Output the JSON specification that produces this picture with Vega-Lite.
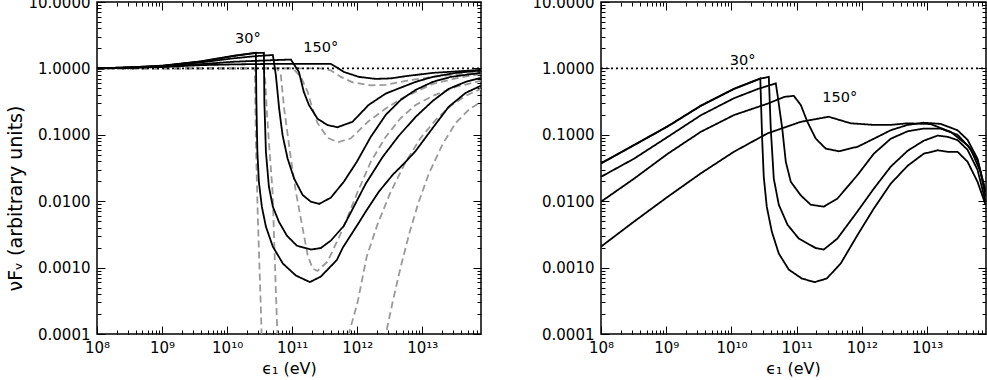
{
  "$schema": "https://vega.github.io/schema/vega-lite/v6.json",
  "autosize": {"type": "pad"},
  "padding": {"left": 5, "top": -6, "right": 0, "bottom": 0},
  "background": "white",
  "config": {
    "view": {"stroke": "black", "strokeWidth": 1.5},
    "font": "DejaVu Sans",
    "axis": {"domain": false, "grid": false, "tickColor": "black", "tickWidth": 1, "labelFont": "DejaVu Sans", "labelFontSize": 15, "labelColor": "black", "titleFont": "DejaVu Sans", "titleFontWeight": "normal", "titleColor": "black", "labelFlush": false, "labelOverlap": false}
  },
  "datasets": {
    "L": [
      {"c":"D1","s":"dashed","x":1e8,"y":1.0},{"c":"D1","s":"dashed","x":2.67e10,"y":1.0},{"c":"D1","s":"dashed","x":2.77e10,"y":0.0785},{"c":"D1","s":"dashed","x":2.94e10,"y":0.0078},{"c":"D1","s":"dashed","x":3.11e10,"y":0.00138},{"c":"D1","s":"dashed","x":3.30e10,"y":0.00025},{"c":"D1","s":"dashed","x":3.48e10,"y":3.9e-5},
      {"c":"D1b","s":"dashed","x":2.39e12,"y":5.5e-5},{"c":"D1b","s":"dashed","x":2.75e12,"y":1.0e-4},{"c":"D1b","s":"dashed","x":3.52e12,"y":0.000308},{"c":"D1b","s":"dashed","x":4.68e12,"y":0.00104},{"c":"D1b","s":"dashed","x":6.43e12,"y":0.00348},{"c":"D1b","s":"dashed","x":8.84e12,"y":0.00982},{"c":"D1b","s":"dashed","x":1.26e13,"y":0.0259},{"c":"D1b","s":"dashed","x":2.07e13,"y":0.0733},{"c":"D1b","s":"dashed","x":3.27e13,"y":0.151},{"c":"D1b","s":"dashed","x":5.18e13,"y":0.238},{"c":"D1b","s":"dashed","x":7.9e13,"y":0.313},
      {"c":"D2","s":"dashed","x":1e8,"y":1.0},{"c":"D2","s":"dashed","x":3.68e10,"y":1.0},{"c":"D2","s":"dashed","x":3.87e10,"y":0.627},{"c":"D2","s":"dashed","x":4.09e10,"y":0.222},{"c":"D2","s":"dashed","x":4.39e10,"y":0.0785},{"c":"D2","s":"dashed","x":5.0e10,"y":0.0139},{"c":"D2","s":"dashed","x":5.3e10,"y":0.00246},{"c":"D2","s":"dashed","x":5.62e10,"y":0.000436},{"c":"D2","s":"dashed","x":6.03e10,"y":6.5e-5},
      {"c":"D2b","s":"dashed","x":6.68e11,"y":6.5e-5},{"c":"D2b","s":"dashed","x":7.43e11,"y":1.0e-4},{"c":"D2b","s":"dashed","x":1.02e12,"y":0.000308},{"c":"D2b","s":"dashed","x":1.40e12,"y":0.00146},{"c":"D2b","s":"dashed","x":2.07e12,"y":0.00459},{"c":"D2b","s":"dashed","x":3.28e12,"y":0.0139},{"c":"D2b","s":"dashed","x":5.58e12,"y":0.0393},{"c":"D2b","s":"dashed","x":9.48e12,"y":0.0901},{"c":"D2b","s":"dashed","x":1.61e13,"y":0.168},{"c":"D2b","s":"dashed","x":2.74e13,"y":0.273},{"c":"D2b","s":"dashed","x":4.66e13,"y":0.386},{"c":"D2b","s":"dashed","x":7.9e13,"y":0.492},
      {"c":"D3","s":"dashed","x":1e8,"y":1.0},{"c":"D3","s":"dashed","x":5.82e10,"y":1.0},{"c":"D3","s":"dashed","x":6.7e10,"y":0.79},{"c":"D3","s":"dashed","x":7.53e10,"y":0.248},{"c":"D3","s":"dashed","x":9.55e10,"y":0.0441},{"c":"D3","s":"dashed","x":1.14e11,"y":0.0139},{"c":"D3","s":"dashed","x":1.45e11,"y":0.0039},{"c":"D3","s":"dashed","x":1.73e11,"y":0.00155},{"c":"D3","s":"dashed","x":2.06e11,"y":0.00097},{"c":"D3","s":"dashed","x":2.45e11,"y":0.00089},{"c":"D3","s":"dashed","x":3.5e11,"y":0.00123},{"c":"D3","s":"dashed","x":5.6e11,"y":0.00327},{"c":"D3","s":"dashed","x":1.02e12,"y":0.0139},{"c":"D3","s":"dashed","x":1.62e12,"y":0.0393},{"c":"D3","s":"dashed","x":2.75e12,"y":0.0933},{"c":"D3","s":"dashed","x":4.68e12,"y":0.179},{"c":"D3","s":"dashed","x":7.94e12,"y":0.282},{"c":"D3","s":"dashed","x":1.45e13,"y":0.386},{"c":"D3","s":"dashed","x":3.27e13,"y":0.527},{"c":"D3","s":"dashed","x":7.9e13,"y":0.649},
      {"c":"D4","s":"dashed","x":1e8,"y":1.0},{"c":"D4","s":"dashed","x":1.03e11,"y":1.0},{"c":"D4","s":"dashed","x":1.36e11,"y":0.745},{"c":"D4","s":"dashed","x":1.73e11,"y":0.443},{"c":"D4","s":"dashed","x":2.01e11,"y":0.264},{"c":"D4","s":"dashed","x":2.45e11,"y":0.151},{"c":"D4","s":"dashed","x":3.5e11,"y":0.0901},{"c":"D4","s":"dashed","x":5.04e11,"y":0.0771},{"c":"D4","s":"dashed","x":7.98e11,"y":0.0885},{"c":"D4","s":"dashed","x":1.46e12,"y":0.157},{"c":"D4","s":"dashed","x":2.75e12,"y":0.249},{"c":"D4","s":"dashed","x":4.68e12,"y":0.348},{"c":"D4","s":"dashed","x":1.45e13,"y":0.585},{"c":"D4","s":"dashed","x":3.27e13,"y":0.707},{"c":"D4","s":"dashed","x":7.9e13,"y":0.826},
      {"c":"D5","s":"dashed","x":1e8,"y":1.0},{"c":"D5","s":"dashed","x":2.76e11,"y":1.0},{"c":"D5","s":"dashed","x":3.93e11,"y":0.933},{"c":"D5","s":"dashed","x":5.6e11,"y":0.745},{"c":"D5","s":"dashed","x":8.55e11,"y":0.615},{"c":"D5","s":"dashed","x":1.62e12,"y":0.555},{"c":"D5","s":"dashed","x":2.75e12,"y":0.565},{"c":"D5","s":"dashed","x":5.58e12,"y":0.649},{"c":"D5","s":"dashed","x":1.45e13,"y":0.745},{"c":"D5","s":"dashed","x":3.27e13,"y":0.812},{"c":"D5","s":"dashed","x":7.9e13,"y":0.87},
      {"c":"R","s":"dotted","x":1e8,"y":1.0},{"c":"R","s":"dotted","x":8e13,"y":1.0},
      {"c":"S1","s":"solid","x":1e8,"y":1.0},{"c":"S1","s":"solid","x":3.3e8,"y":1.04},{"c":"S1","s":"solid","x":1e9,"y":1.10},{"c":"S1","s":"solid","x":4e9,"y":1.28},{"c":"S1","s":"solid","x":1.27e10,"y":1.55},{"c":"S1","s":"solid","x":2.77e10,"y":1.72},{"c":"S1","s":"solid","x":2.82e10,"y":0.313},{"c":"S1","s":"solid","x":2.92e10,"y":0.0555},{"c":"S1","s":"solid","x":3.08e10,"y":0.0196},{"c":"S1","s":"solid","x":3.42e10,"y":0.00827},{"c":"S1","s":"solid","x":3.95e10,"y":0.00414},{"c":"S1","s":"solid","x":5.05e10,"y":0.00207},{"c":"S1","s":"solid","x":7.2e10,"y":0.00115},{"c":"S1","s":"solid","x":1.14e11,"y":0.00076},{"c":"S1","s":"solid","x":1.87e11,"y":0.000605},{"c":"S1","s":"solid","x":2.76e11,"y":0.000733},{"c":"S1","s":"solid","x":4.86e11,"y":0.0013},{"c":"S1","s":"solid","x":6.01e11,"y":0.0020},{"c":"S1","s":"solid","x":1.06e12,"y":0.00475},{"c":"S1","s":"solid","x":1.35e12,"y":0.00695},{"c":"S1","s":"solid","x":2.15e12,"y":0.0139},{"c":"S1","s":"solid","x":3.52e12,"y":0.025},{"c":"S1","s":"solid","x":5.58e12,"y":0.0393},{"c":"S1","s":"solid","x":7.94e12,"y":0.0574},{"c":"S1","s":"solid","x":1.45e13,"y":0.127},{"c":"S1","s":"solid","x":2.55e13,"y":0.264},{"c":"S1","s":"solid","x":4.66e13,"y":0.428},{"c":"S1","s":"solid","x":7.9e13,"y":0.546},
      {"c":"S2","s":"solid","x":1e8,"y":1.0},{"c":"S2","s":"solid","x":3.3e8,"y":1.04},{"c":"S2","s":"solid","x":1e9,"y":1.09},{"c":"S2","s":"solid","x":4e9,"y":1.27},{"c":"S2","s":"solid","x":1.27e10,"y":1.54},{"c":"S2","s":"solid","x":2.77e10,"y":1.71},{"c":"S2","s":"solid","x":3.68e10,"y":1.72},{"c":"S2","s":"solid","x":3.74e10,"y":0.313},{"c":"S2","s":"solid","x":3.95e10,"y":0.0555},{"c":"S2","s":"solid","x":4.39e10,"y":0.0165},{"c":"S2","s":"solid","x":5.05e10,"y":0.00827},{"c":"S2","s":"solid","x":6.25e10,"y":0.00492},{"c":"S2","s":"solid","x":8.29e10,"y":0.00303},{"c":"S2","s":"solid","x":1.18e11,"y":0.00214},{"c":"S2","s":"solid","x":1.94e11,"y":0.00187},{"c":"S2","s":"solid","x":2.76e11,"y":0.00197},{"c":"S2","s":"solid","x":3.93e11,"y":0.00255},{"c":"S2","s":"solid","x":6.22e11,"y":0.00424},{"c":"S2","s":"solid","x":8.55e11,"y":0.00771},{"c":"S2","s":"solid","x":1.35e12,"y":0.0183},{"c":"S2","s":"solid","x":2.47e12,"y":0.0466},{"c":"S2","s":"solid","x":4.36e12,"y":0.0967},{"c":"S2","s":"solid","x":7.94e12,"y":0.187},{"c":"S2","s":"solid","x":1.45e13,"y":0.324},{"c":"S2","s":"solid","x":2.55e13,"y":0.492},{"c":"S2","s":"solid","x":4.66e13,"y":0.627},{"c":"S2","s":"solid","x":7.9e13,"y":0.719},
      {"c":"S3","s":"solid","x":1e8,"y":1.0},{"c":"S3","s":"solid","x":3.3e8,"y":1.03},{"c":"S3","s":"solid","x":1e9,"y":1.08},{"c":"S3","s":"solid","x":4e9,"y":1.23},{"c":"S3","s":"solid","x":1.27e10,"y":1.42},{"c":"S3","s":"solid","x":2.77e10,"y":1.53},{"c":"S3","s":"solid","x":5.05e10,"y":1.59},{"c":"S3","s":"solid","x":5.62e10,"y":0.79},{"c":"S3","s":"solid","x":6.31e10,"y":0.248},{"c":"S3","s":"solid","x":7.12e10,"y":0.099},{"c":"S3","s":"solid","x":8.5e10,"y":0.0441},{"c":"S3","s":"solid","x":1.07e11,"y":0.022},{"c":"S3","s":"solid","x":1.45e11,"y":0.0124},{"c":"S3","s":"solid","x":1.94e11,"y":0.00982},{"c":"S3","s":"solid","x":2.6e11,"y":0.0091},{"c":"S3","s":"solid","x":3.93e11,"y":0.0113},{"c":"S3","s":"solid","x":6.22e11,"y":0.0196},{"c":"S3","s":"solid","x":9.87e11,"y":0.0393},{"c":"S3","s":"solid","x":1.62e12,"y":0.0933},{"c":"S3","s":"solid","x":2.75e12,"y":0.200},{"c":"S3","s":"solid","x":4.68e12,"y":0.336},{"c":"S3","s":"solid","x":7.94e12,"y":0.475},{"c":"S3","s":"solid","x":1.45e13,"y":0.627},{"c":"S3","s":"solid","x":2.74e13,"y":0.745},{"c":"S3","s":"solid","x":7.9e13,"y":0.856},
      {"c":"S4","s":"solid","x":1e8,"y":1.0},{"c":"S4","s":"solid","x":3.3e8,"y":1.02},{"c":"S4","s":"solid","x":1e9,"y":1.06},{"c":"S4","s":"solid","x":4e9,"y":1.16},{"c":"S4","s":"solid","x":1.27e10,"y":1.26},{"c":"S4","s":"solid","x":5.05e10,"y":1.33},{"c":"S4","s":"solid","x":9.55e10,"y":1.36},{"c":"S4","s":"solid","x":1.27e11,"y":0.885},{"c":"S4","s":"solid","x":1.51e11,"y":0.443},{"c":"S4","s":"solid","x":1.81e11,"y":0.282},{"c":"S4","s":"solid","x":2.45e11,"y":0.175},{"c":"S4","s":"solid","x":3.5e11,"y":0.140},{"c":"S4","s":"solid","x":4.98e11,"y":0.130},{"c":"S4","s":"solid","x":8.47e11,"y":0.157},{"c":"S4","s":"solid","x":1.5e12,"y":0.282},{"c":"S4","s":"solid","x":2.75e12,"y":0.418},{"c":"S4","s":"solid","x":4.36e12,"y":0.50},{"c":"S4","s":"solid","x":7.94e12,"y":0.627},{"c":"S4","s":"solid","x":1.45e13,"y":0.745},{"c":"S4","s":"solid","x":3.27e13,"y":0.856},{"c":"S4","s":"solid","x":7.9e13,"y":0.93},
      {"c":"S5","s":"solid","x":1e8,"y":1.0},{"c":"S5","s":"solid","x":1e9,"y":1.05},{"c":"S5","s":"solid","x":4e9,"y":1.12},{"c":"S5","s":"solid","x":1.27e10,"y":1.15},{"c":"S5","s":"solid","x":5.05e10,"y":1.17},{"c":"S5","s":"solid","x":1.36e11,"y":1.17},{"c":"S5","s":"solid","x":3.93e11,"y":1.17},{"c":"S5","s":"solid","x":4.98e11,"y":1.02},{"c":"S5","s":"solid","x":6.22e11,"y":0.885},{"c":"S5","s":"solid","x":1.06e12,"y":0.745},{"c":"S5","s":"solid","x":1.93e12,"y":0.695},{"c":"S5","s":"solid","x":3.28e12,"y":0.707},{"c":"S5","s":"solid","x":5.58e12,"y":0.764},{"c":"S5","s":"solid","x":1.45e13,"y":0.856},{"c":"S5","s":"solid","x":3.27e13,"y":0.90},{"c":"S5","s":"solid","x":7.9e13,"y":0.95}
    ],
    "R": [
      {"c":"R","s":"dotted","x":1e8,"y":1.0},{"c":"R","s":"dotted","x":8e13,"y":1.0},
      {"c":"S1","s":"solid","x":1e8,"y":0.037},{"c":"S1","s":"solid","x":3.2e8,"y":0.0697},{"c":"S1","s":"solid","x":1.06e9,"y":0.134},{"c":"S1","s":"solid","x":3.4e9,"y":0.273},{"c":"S1","s":"solid","x":1.09e10,"y":0.49},{"c":"S1","s":"solid","x":1.98e10,"y":0.616},{"c":"S1","s":"solid","x":2.77e10,"y":0.707},{"c":"S1","s":"solid","x":2.87e10,"y":0.222},{"c":"S1","s":"solid","x":2.97e10,"y":0.0785},{"c":"S1","s":"solid","x":3.13e10,"y":0.0233},{"c":"S1","s":"solid","x":3.48e10,"y":0.00827},{"c":"S1","s":"solid","x":4.16e10,"y":0.00348},{"c":"S1","s":"solid","x":5.32e10,"y":0.00163},{"c":"S1","s":"solid","x":7.57e10,"y":0.000933},{"c":"S1","s":"solid","x":1.2e11,"y":0.000684},{"c":"S1","s":"solid","x":1.89e11,"y":0.000605},{"c":"S1","s":"solid","x":2.89e11,"y":0.000684},{"c":"S1","s":"solid","x":4.73e11,"y":0.00115},{"c":"S1","s":"solid","x":8.63e11,"y":0.00313},{"c":"S1","s":"solid","x":1.52e12,"y":0.00771},{"c":"S1","s":"solid","x":2.76e12,"y":0.0183},{"c":"S1","s":"solid","x":5.03e12,"y":0.0342},{"c":"S1","s":"solid","x":8.84e12,"y":0.0518},{"c":"S1","s":"solid","x":1.45e13,"y":0.0585},{"c":"S1","s":"solid","x":2.06e13,"y":0.0555},{"c":"S1","s":"solid","x":2.93e13,"y":0.0555},{"c":"S1","s":"solid","x":4.17e13,"y":0.0393},{"c":"S1","s":"solid","x":5.93e13,"y":0.0196},{"c":"S1","s":"solid","x":7.87e13,"y":0.00886},
      {"c":"S2","s":"solid","x":1e8,"y":0.0372},{"c":"S2","s":"solid","x":3.2e8,"y":0.07},{"c":"S2","s":"solid","x":1.06e9,"y":0.135},{"c":"S2","s":"solid","x":3.4e9,"y":0.275},{"c":"S2","s":"solid","x":1.09e10,"y":0.492},{"c":"S2","s":"solid","x":1.98e10,"y":0.62},{"c":"S2","s":"solid","x":2.77e10,"y":0.70},{"c":"S2","s":"solid","x":3.74e10,"y":0.745},{"c":"S2","s":"solid","x":4.01e10,"y":0.123},{"c":"S2","s":"solid","x":4.46e10,"y":0.0218},{"c":"S2","s":"solid","x":5.32e10,"y":0.00886},{"c":"S2","s":"solid","x":7.23e10,"y":0.00443},{"c":"S2","s":"solid","x":1.08e11,"y":0.00273},{"c":"S2","s":"solid","x":1.96e11,"y":0.00197},{"c":"S2","s":"solid","x":2.6e11,"y":0.00187},{"c":"S2","s":"solid","x":4.2e11,"y":0.00273},{"c":"S2","s":"solid","x":8.5e11,"y":0.00695},{"c":"S2","s":"solid","x":1.52e12,"y":0.0154},{"c":"S2","s":"solid","x":2.76e12,"y":0.033},{"c":"S2","s":"solid","x":5.03e12,"y":0.0575},{"c":"S2","s":"solid","x":8.84e12,"y":0.0813},{"c":"S2","s":"solid","x":1.45e13,"y":0.0973},{"c":"S2","s":"solid","x":2.06e13,"y":0.0933},{"c":"S2","s":"solid","x":2.93e13,"y":0.0833},{"c":"S2","s":"solid","x":4.17e13,"y":0.0595},{"c":"S2","s":"solid","x":5.93e13,"y":0.0297},{"c":"S2","s":"solid","x":7.87e13,"y":0.00982},
      {"c":"S3","s":"solid","x":1e8,"y":0.0233},{"c":"S3","s":"solid","x":3.2e8,"y":0.0436},{"c":"S3","s":"solid","x":1.06e9,"y":0.0933},{"c":"S3","s":"solid","x":3.4e9,"y":0.197},{"c":"S3","s":"solid","x":1.09e10,"y":0.355},{"c":"S3","s":"solid","x":2.54e10,"y":0.49},{"c":"S3","s":"solid","x":4.79e10,"y":0.595},{"c":"S3","s":"solid","x":5.14e10,"y":0.373},{"c":"S3","s":"solid","x":6.02e10,"y":0.123},{"c":"S3","s":"solid","x":6.81e10,"y":0.0393},{"c":"S3","s":"solid","x":8.13e10,"y":0.0196},{"c":"S3","s":"solid","x":1.16e11,"y":0.0122},{"c":"S3","s":"solid","x":1.64e11,"y":0.00886},{"c":"S3","s":"solid","x":2.6e11,"y":0.00827},{"c":"S3","s":"solid","x":4.2e11,"y":0.0109},{"c":"S3","s":"solid","x":8.63e11,"y":0.025},{"c":"S3","s":"solid","x":1.52e12,"y":0.0518},{"c":"S3","s":"solid","x":2.76e12,"y":0.0871},{"c":"S3","s":"solid","x":5.03e12,"y":0.113},{"c":"S3","s":"solid","x":8.84e12,"y":0.124},{"c":"S3","s":"solid","x":1.61e13,"y":0.124},{"c":"S3","s":"solid","x":2.93e13,"y":0.1},{"c":"S3","s":"solid","x":4.63e13,"y":0.0616},{"c":"S3","s":"solid","x":6.59e13,"y":0.0278},{"c":"S3","s":"solid","x":7.87e13,"y":0.0117},
      {"c":"S4","s":"solid","x":1e8,"y":0.00982},{"c":"S4","s":"solid","x":3.2e8,"y":0.0218},{"c":"S4","s":"solid","x":1.06e9,"y":0.052},{"c":"S4","s":"solid","x":3.4e9,"y":0.111},{"c":"S4","s":"solid","x":1.09e10,"y":0.198},{"c":"S4","s":"solid","x":3.57e10,"y":0.294},{"c":"S4","s":"solid","x":6.5e10,"y":0.373},{"c":"S4","s":"solid","x":9.04e10,"y":0.386},{"c":"S4","s":"solid","x":1.16e11,"y":0.28},{"c":"S4","s":"solid","x":1.46e11,"y":0.157},{"c":"S4","s":"solid","x":1.96e11,"y":0.0877},{"c":"S4","s":"solid","x":2.79e11,"y":0.062},{"c":"S4","s":"solid","x":4.42e11,"y":0.0565},{"c":"S4","s":"solid","x":8.63e11,"y":0.0662},{"c":"S4","s":"solid","x":1.52e12,"y":0.0871},{"c":"S4","s":"solid","x":2.76e12,"y":0.117},{"c":"S4","s":"solid","x":5.03e12,"y":0.141},{"c":"S4","s":"solid","x":8.84e12,"y":0.152},{"c":"S4","s":"solid","x":1.61e13,"y":0.146},{"c":"S4","s":"solid","x":2.93e13,"y":0.117},{"c":"S4","s":"solid","x":4.17e13,"y":0.0841},{"c":"S4","s":"solid","x":5.93e13,"y":0.0436},{"c":"S4","s":"solid","x":7.87e13,"y":0.0139},
      {"c":"S5","s":"solid","x":1e8,"y":0.00207},{"c":"S5","s":"solid","x":3.2e8,"y":0.00492},{"c":"S5","s":"solid","x":1.06e9,"y":0.0117},{"c":"S5","s":"solid","x":3.4e9,"y":0.0263},{"c":"S5","s":"solid","x":1.09e10,"y":0.0555},{"c":"S5","s":"solid","x":3.57e10,"y":0.105},{"c":"S5","s":"solid","x":1.16e11,"y":0.157},{"c":"S5","s":"solid","x":3.1e11,"y":0.187},{"c":"S5","s":"solid","x":6.73e11,"y":0.149},{"c":"S5","s":"solid","x":1.52e12,"y":0.141},{"c":"S5","s":"solid","x":2.76e12,"y":0.141},{"c":"S5","s":"solid","x":5.03e12,"y":0.149},{"c":"S5","s":"solid","x":1.13e13,"y":0.145},{"c":"S5","s":"solid","x":2.29e13,"y":0.111},{"c":"S5","s":"solid","x":4.17e13,"y":0.0697},{"c":"S5","s":"solid","x":5.93e13,"y":0.0414},{"c":"S5","s":"solid","x":7.87e13,"y":0.0139}
    ],
    "TL": [{"t":"30°","x":2.09e10,"y":2.73},{"t":"150°","x":2.75e11,"y":2.03}],
    "TR": [{"t":"30°","x":1.48e10,"y":1.30},{"t":"150°","x":4.57e11,"y":0.354}]
  },
  "spacing": 120,
  "bounds": "flush",
  "hconcat": [
    {
      "width": 384, "height": 332,
      "resolve": {"axis": {"x": "independent", "y": "independent"}},
      "layer": [
        {
          "data": {"name": "L"},
          "mark": {"type": "line", "clip": true, "strokeWidth": 1.8},
          "encoding": {
            "x": {"field": "x", "type": "quantitative", "scale": {"type": "log", "domain": [1e8, 8e13], "nice": false},
              "axis": {"orient": "bottom", "title": "ϵ₁ (eV)", "titleFontSize": 16, "titleX": 192, "titleY": 39, "titleBaseline": "alphabetic", "titleAlign": "center",
                "values": [1e8,2e8,3e8,4e8,5e8,6e8,7e8,8e8,9e8,1e9,2e9,3e9,4e9,5e9,6e9,7e9,8e9,9e9,1e10,2e10,3e10,4e10,5e10,6e10,7e10,8e10,9e10,1e11,2e11,3e11,4e11,5e11,6e11,7e11,8e11,9e11,1e12,2e12,3e12,4e12,5e12,6e12,7e12,8e12,9e12,1e13,2e13,3e13,4e13,5e13,6e13,7e13],
                "labelExpr": "abs(log(datum.value)/LN10 - round(log(datum.value)/LN10)) < 0.001 ? '10' + ['⁸','⁹','¹⁰','¹¹','¹²','¹³'][round(log(datum.value)/LN10) - 8] : ''",
                "tickSize": {"condition": {"test": "abs(log(datum.value)/LN10 - round(log(datum.value)/LN10)) < 0.001", "value": -8}, "value": -4},
                "labelPadding": 14}},
            "y": {"field": "y", "type": "quantitative", "scale": {"type": "log", "domain": [0.0001, 10], "nice": false},
              "axis": {"orient": "left", "title": "νFᵥ (arbitrary units)", "titleFontSize": 19, "titleX": -82, "titleY": 196, "titleAngle": -90, "titleBaseline": "middle", "titleAlign": "center",
                "values": [1e-4,2e-4,3e-4,4e-4,5e-4,6e-4,7e-4,8e-4,9e-4,1e-3,2e-3,3e-3,4e-3,5e-3,6e-3,7e-3,8e-3,9e-3,0.01,0.02,0.03,0.04,0.05,0.06,0.07,0.08,0.09,0.1,0.2,0.3,0.4,0.5,0.6,0.7,0.8,0.9,1,2,3,4,5,6,7,8,9,10],
                "labelExpr": "abs(log(datum.value)/LN10 - round(log(datum.value)/LN10)) < 0.001 ? format(datum.value, '.4f') : ''",
                "tickSize": {"condition": {"test": "abs(log(datum.value)/LN10 - round(log(datum.value)/LN10)) < 0.001", "value": -8}, "value": -4},
                "labelPadding": 15}},
            "detail": {"field": "c"},
            "color": {"field": "s", "type": "nominal", "scale": {"domain": ["solid", "dashed", "dotted"], "range": ["#000000", "#9a9a9a", "#000000"]}, "legend": null},
            "strokeDash": {"field": "s", "type": "nominal", "scale": {"domain": ["solid", "dashed", "dotted"], "range": [[1, 0], [7, 4], [2, 3]]}, "legend": null}
          }
        },
        {
          "data": {"name": "TL"},
          "mark": {"type": "text", "font": "DejaVu Sans", "fontSize": 14.5, "color": "black"},
          "encoding": {
            "x": {"field": "x", "type": "quantitative", "scale": {"type": "log", "domain": [1e8, 8e13], "nice": false},
              "axis": {"orient": "top", "title": null, "labels": false,
                "values": [1e8,2e8,3e8,4e8,5e8,6e8,7e8,8e8,9e8,1e9,2e9,3e9,4e9,5e9,6e9,7e9,8e9,9e9,1e10,2e10,3e10,4e10,5e10,6e10,7e10,8e10,9e10,1e11,2e11,3e11,4e11,5e11,6e11,7e11,8e11,9e11,1e12,2e12,3e12,4e12,5e12,6e12,7e12,8e12,9e12,1e13,2e13,3e13,4e13,5e13,6e13,7e13],
                "tickSize": {"condition": {"test": "abs(log(datum.value)/LN10 - round(log(datum.value)/LN10)) < 0.001", "value": -8}, "value": -4}}},
            "y": {"field": "y", "type": "quantitative", "scale": {"type": "log", "domain": [0.0001, 10], "nice": false},
              "axis": {"orient": "right", "title": null, "labels": false,
                "values": [1e-4,2e-4,3e-4,4e-4,5e-4,6e-4,7e-4,8e-4,9e-4,1e-3,2e-3,3e-3,4e-3,5e-3,6e-3,7e-3,8e-3,9e-3,0.01,0.02,0.03,0.04,0.05,0.06,0.07,0.08,0.09,0.1,0.2,0.3,0.4,0.5,0.6,0.7,0.8,0.9,1,2,3,4,5,6,7,8,9,10],
                "tickSize": {"condition": {"test": "abs(log(datum.value)/LN10 - round(log(datum.value)/LN10)) < 0.001", "value": -8}, "value": -4}}},
            "text": {"field": "t"}
          }
        }
      ]
    },
    {
      "width": 385, "height": 332,
      "resolve": {"axis": {"x": "independent", "y": "independent"}},
      "layer": [
        {
          "data": {"name": "R"},
          "mark": {"type": "line", "clip": true, "strokeWidth": 1.8},
          "encoding": {
            "x": {"field": "x", "type": "quantitative", "scale": {"type": "log", "domain": [1e8, 8e13], "nice": false},
              "axis": {"orient": "bottom", "title": "ϵ₁ (eV)", "titleFontSize": 16, "titleX": 192, "titleY": 39, "titleBaseline": "alphabetic", "titleAlign": "center",
                "values": [1e8,2e8,3e8,4e8,5e8,6e8,7e8,8e8,9e8,1e9,2e9,3e9,4e9,5e9,6e9,7e9,8e9,9e9,1e10,2e10,3e10,4e10,5e10,6e10,7e10,8e10,9e10,1e11,2e11,3e11,4e11,5e11,6e11,7e11,8e11,9e11,1e12,2e12,3e12,4e12,5e12,6e12,7e12,8e12,9e12,1e13,2e13,3e13,4e13,5e13,6e13,7e13],
                "labelExpr": "abs(log(datum.value)/LN10 - round(log(datum.value)/LN10)) < 0.001 ? '10' + ['⁸','⁹','¹⁰','¹¹','¹²','¹³'][round(log(datum.value)/LN10) - 8] : ''",
                "tickSize": {"condition": {"test": "abs(log(datum.value)/LN10 - round(log(datum.value)/LN10)) < 0.001", "value": -8}, "value": -4},
                "labelPadding": 14}},
            "y": {"field": "y", "type": "quantitative", "scale": {"type": "log", "domain": [0.0001, 10], "nice": false},
              "axis": {"orient": "left", "title": null,
                "values": [1e-4,2e-4,3e-4,4e-4,5e-4,6e-4,7e-4,8e-4,9e-4,1e-3,2e-3,3e-3,4e-3,5e-3,6e-3,7e-3,8e-3,9e-3,0.01,0.02,0.03,0.04,0.05,0.06,0.07,0.08,0.09,0.1,0.2,0.3,0.4,0.5,0.6,0.7,0.8,0.9,1,2,3,4,5,6,7,8,9,10],
                "labelExpr": "abs(log(datum.value)/LN10 - round(log(datum.value)/LN10)) < 0.001 ? format(datum.value, '.4f') : ''",
                "tickSize": {"condition": {"test": "abs(log(datum.value)/LN10 - round(log(datum.value)/LN10)) < 0.001", "value": -8}, "value": -4},
                "labelPadding": 15}},
            "detail": {"field": "c"},
            "color": {"field": "s", "type": "nominal", "scale": {"domain": ["solid", "dashed", "dotted"], "range": ["#000000", "#9a9a9a", "#000000"]}, "legend": null},
            "strokeDash": {"field": "s", "type": "nominal", "scale": {"domain": ["solid", "dashed", "dotted"], "range": [[1, 0], [7, 4], [2, 3]]}, "legend": null}
          }
        },
        {
          "data": {"name": "TR"},
          "mark": {"type": "text", "font": "DejaVu Sans", "fontSize": 14.5, "color": "black"},
          "encoding": {
            "x": {"field": "x", "type": "quantitative", "scale": {"type": "log", "domain": [1e8, 8e13], "nice": false},
              "axis": {"orient": "top", "title": null, "labels": false,
                "values": [1e8,2e8,3e8,4e8,5e8,6e8,7e8,8e8,9e8,1e9,2e9,3e9,4e9,5e9,6e9,7e9,8e9,9e9,1e10,2e10,3e10,4e10,5e10,6e10,7e10,8e10,9e10,1e11,2e11,3e11,4e11,5e11,6e11,7e11,8e11,9e11,1e12,2e12,3e12,4e12,5e12,6e12,7e12,8e12,9e12,1e13,2e13,3e13,4e13,5e13,6e13,7e13],
                "tickSize": {"condition": {"test": "abs(log(datum.value)/LN10 - round(log(datum.value)/LN10)) < 0.001", "value": -8}, "value": -4}}},
            "y": {"field": "y", "type": "quantitative", "scale": {"type": "log", "domain": [0.0001, 10], "nice": false},
              "axis": {"orient": "right", "title": null, "labels": false,
                "values": [1e-4,2e-4,3e-4,4e-4,5e-4,6e-4,7e-4,8e-4,9e-4,1e-3,2e-3,3e-3,4e-3,5e-3,6e-3,7e-3,8e-3,9e-3,0.01,0.02,0.03,0.04,0.05,0.06,0.07,0.08,0.09,0.1,0.2,0.3,0.4,0.5,0.6,0.7,0.8,0.9,1,2,3,4,5,6,7,8,9,10],
                "tickSize": {"condition": {"test": "abs(log(datum.value)/LN10 - round(log(datum.value)/LN10)) < 0.001", "value": -8}, "value": -4}}},
            "text": {"field": "t"}
          }
        }
      ]
    }
  ]
}
